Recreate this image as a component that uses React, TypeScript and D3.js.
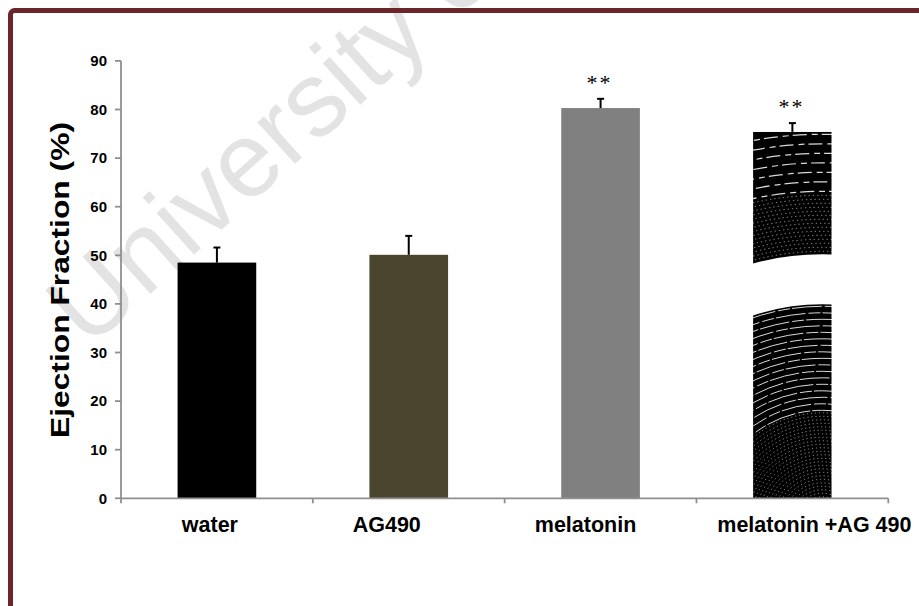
import React from "react";
import * as d3 from "d3";

// ---- data ----
const categories = ["water", "AG490", "melatonin", "melatonin +AG 490"];
const means = [48.5, 50.1, 80.3, 75.4];
const errors = [3.1, 3.9, 1.9, 1.8];
const significance = ["", "", "**", "**"];
const yTicks = [0, 10, 20, 30, 40, 50, 60, 70, 80, 90];
const yTitle = "Ejection Fraction (%)";
const watermarkText = "University of Cape Town";

// ---- layout / style ----
const W = 919;
const H = 606;
const plot = { left: 121, right: 888.3, top: 60.9, bottom: 498.3 };
const labelShift = [-7, -22, -15, 22];
const barFills = ["#000000", "#4b452e", "#808080", "pattern"];
const axisColor = "#8f8f8f";
const font = "'Liberation Sans', Arial, sans-serif";

export default function App() {
  const x = d3.scaleBand<string>().domain(categories).range([plot.left, plot.right]).padding(0);
  const y = d3.scaleLinear().domain([0, 90]).range([plot.bottom, plot.top]);
  const band = x.bandwidth();
  const bw = band * 0.41;
  const boundaries = categories.map((c) => x(c) as number).concat([plot.right]);

  const bars = categories.map((c, i) => {
    const bx = (x(c) as number) + (band - bw) / 2;
    const top = y(means[i]);
    return { c, i, bx, top, h: y(0) - top, cx: bx + bw / 2, errTop: y(means[i] + errors[i]) };
  });

  const pb = bars[3];
  const rcx = pb.bx + bw * 0.88;
  const rcy = y(0) + 24;
  const lowerLines = d3.range(112, 219, 6.5);
  const innerDots = d3.range(8, 110, 3.5);
  const upperDots = d3.range(271, 328, 4);
  const upperDash = d3.range(331, 400, 9.5);

  // watermark geometry
  const wmX = 88;
  const wmY = 350;

  return (
    <svg
      width={W}
      height={H}
      viewBox={`0 0 ${W} ${H}`}
      style={{ position: "fixed", left: 0, top: 0, background: "#ffffff" }}
      xmlns="http://www.w3.org/2000/svg"
    >
      <rect x={0} y={0} width={W} height={H} fill="#ffffff" />
      <defs>
        <clipPath id="bar4clip">
          <rect x={pb.bx} y={pb.top} width={bw} height={pb.h} />
        </clipPath>
        <mask id="gapMask" maskUnits="userSpaceOnUse" x={0} y={0} width={W} height={H}>
          <rect x={0} y={0} width={W} height={H} fill="white" />
          <circle cx={rcx} cy={rcy} r={243} fill="none" stroke="black" strokeWidth={50} />
        </mask>
      </defs>

      {/* watermark */}
      <text
        x={wmX}
        y={wmY}
        transform={`rotate(-42 ${wmX} ${wmY})`}
        fontFamily={font}
        fontSize={106}
        fill="#e3e3e3"
      >
        {watermarkText}
      </text>

      {/* page border */}
      <rect x={10.5} y={10.5} width={1000} height={700} rx={4} fill="none" stroke="#6a2628" strokeWidth={5} />

      {/* bars */}
      {bars.map((b) =>
        barFills[b.i] !== "pattern" ? (
          <rect key={b.c} x={b.bx} y={b.top} width={bw} height={b.h} fill={barFills[b.i]} />
        ) : (
          <g key={b.c} clipPath="url(#bar4clip)" mask="url(#gapMask)">
            <rect x={b.bx} y={b.top} width={bw} height={b.h} fill="#000000" />
            {innerDots.map((r) => (
              <circle key={"d" + r} cx={rcx} cy={rcy} r={r} fill="none" stroke="#ffffff" strokeOpacity={0.55} strokeWidth={1} strokeDasharray="1.2 2.8" />
            ))}
            {lowerLines.map((r) => (
              <circle key={"l" + r} cx={rcx} cy={rcy} r={r} fill="none" stroke="#ffffff" strokeOpacity={0.85} strokeWidth={1} strokeDasharray="30 3 12 2" />
            ))}
            {upperDots.map((r) => (
              <circle key={"u" + r} cx={rcx} cy={rcy} r={r} fill="none" stroke="#ffffff" strokeOpacity={0.55} strokeWidth={1} strokeDasharray="1.3 3" />
            ))}
            {upperDash.map((r) => (
              <circle key={"s" + r} cx={rcx} cy={rcy} r={r} fill="none" stroke="#ffffff" strokeOpacity={0.85} strokeWidth={1.2} strokeDasharray="14 5 6 4" />
            ))}
          </g>
        )
      )}

      {/* error bars */}
      {bars.map((b) => (
        <g key={"e" + b.c} stroke="#000000" strokeWidth={2}>
          <line x1={b.cx} x2={b.cx} y1={b.top} y2={b.errTop} />
          <line x1={b.cx - 3.5} x2={b.cx + 3.5} y1={b.errTop} y2={b.errTop} />
        </g>
      ))}

      {/* significance marks */}
      {bars.map((b) =>
        significance[b.i] ? (
          <text
            key={"s" + b.c}
            x={b.cx - 1}
            y={b.errTop - 9}
            textAnchor="middle"
            fontFamily="'Liberation Serif', 'Times New Roman', serif"
            fontSize={22}
            letterSpacing={2}
            fill="#000000"
          >
            {significance[b.i]}
          </text>
        ) : null
      )}

      {/* y axis */}
      <line x1={plot.left} x2={plot.left} y1={y(90)} y2={y(0)} stroke={axisColor} strokeWidth={1.8} />
      {yTicks.map((t) => (
        <g key={"yt" + t}>
          <line x1={plot.left - 6} x2={plot.left} y1={y(t)} y2={y(t)} stroke={axisColor} strokeWidth={1.8} />
          <text
            x={107}
            y={y(t)}
            dy="0.35em"
            textAnchor="end"
            fontFamily={font}
            fontWeight="bold"
            fontSize={15}
            fill="#000000"
          >
            {t}
          </text>
        </g>
      ))}

      {/* x axis */}
      <line x1={plot.left} x2={plot.right} y1={y(0)} y2={y(0)} stroke={axisColor} strokeWidth={1.8} />
      {boundaries.map((bx, i) => (
        <line key={"xt" + i} x1={bx} x2={bx} y1={y(0)} y2={y(0) + 5} stroke={axisColor} strokeWidth={1.8} />
      ))}
      {categories.map((c, i) => (
        <text
          key={"xl" + c}
          x={(x(c) as number) + band / 2 + labelShift[i]}
          y={531.7}
          textAnchor="middle"
          fontFamily={font}
          fontWeight="bold"
          fontSize={21.5}
          fill="#000000"
        >
          {c}
        </text>
      ))}

      {/* y title */}
      <text
        transform={`translate(69, 280) rotate(-90)`}
        textAnchor="middle"
        fontFamily={font}
        fontWeight="bold"
        fontSize={26}
        textLength={316}
        lengthAdjust="spacingAndGlyphs"
        fill="#000000"
      >
        {yTitle}
      </text>
    </svg>
  );
}
